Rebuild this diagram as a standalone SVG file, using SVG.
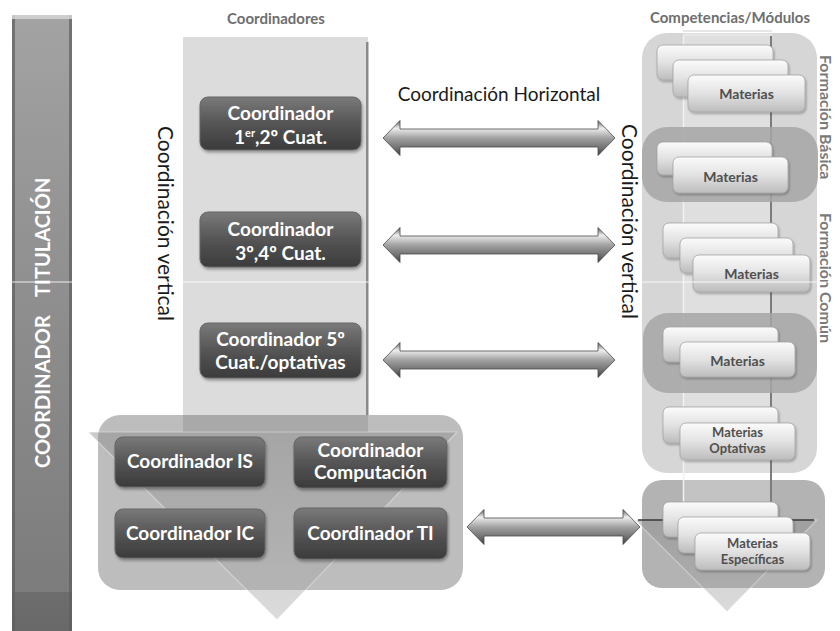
<svg xmlns="http://www.w3.org/2000/svg" width="840" height="631" viewBox="0 0 840 631">
<defs>
<linearGradient id="gBar" x1="0" y1="0" x2="0" y2="1">
<stop offset="0" stop-color="#a3a3a3"/><stop offset="0.35" stop-color="#939393"/><stop offset="0.7" stop-color="#858585"/><stop offset="0.93" stop-color="#7c7c7c"/><stop offset="0.931" stop-color="#6d6d6d"/><stop offset="1" stop-color="#686868"/>
</linearGradient>
<linearGradient id="gDark" x1="0" y1="0" x2="0" y2="1">
<stop offset="0" stop-color="#7a7a7a"/><stop offset="0.5" stop-color="#555"/><stop offset="1" stop-color="#3b3b3b"/>
</linearGradient>
<linearGradient id="gLight" x1="0" y1="0" x2="0" y2="1">
<stop offset="0" stop-color="#fbfbfb"/><stop offset="0.5" stop-color="#e2e2e2"/><stop offset="1" stop-color="#bcbcbc"/>
</linearGradient>
<linearGradient id="gArrow" x1="0" y1="0" x2="0" y2="1">
<stop offset="0" stop-color="#5a5a5a"/><stop offset="0.22" stop-color="#eeeeee"/><stop offset="0.5" stop-color="#a2a2a2"/><stop offset="0.8" stop-color="#6e6e6e"/><stop offset="1" stop-color="#3c3c3c"/>
</linearGradient>
<linearGradient id="gTri" x1="0" y1="0" x2="0" y2="1">
<stop offset="0" stop-color="#8a8a8a"/><stop offset="1" stop-color="#b0b0b0"/>
</linearGradient>
<filter id="sh" x="-10%" y="-10%" width="125%" height="140%">
<feDropShadow dx="1" dy="2" stdDeviation="1.5" flood-color="#000" flood-opacity="0.35"/>
</filter>
<filter id="sh2" x="-10%" y="-10%" width="125%" height="140%">
<feDropShadow dx="1" dy="1.5" stdDeviation="1.2" flood-color="#000" flood-opacity="0.3"/>
</filter>
<style>
.cb{fill:url(#gDark);stroke:#666;stroke-width:1;filter:url(#sh)}
.ct{font-family:Lato,"Open Sans",sans-serif;font-weight:700;font-size:19px;fill:#fff;text-anchor:middle}
.mb{fill:url(#gLight);stroke:#a5a5a5;stroke-width:0.8;filter:url(#sh2)}
.mt{font-family:Lato,"Open Sans",sans-serif;font-weight:700;font-size:14px;fill:#505050;text-anchor:middle}
.mt2{font-family:Lato,"Open Sans",sans-serif;font-weight:700;font-size:13px;fill:#505050;text-anchor:middle}
.hd{font-family:Lato,"Open Sans",sans-serif;font-weight:700;font-size:15px;fill:#6e6e6e;text-anchor:middle}
.cv{font-family:Lato,"Open Sans",sans-serif;font-size:21px;fill:#1a1a1a}
.ch{font-family:Lato,"Open Sans",sans-serif;font-size:19px;fill:#1a1a1a;text-anchor:middle}
.fr{font-family:Lato,"Open Sans",sans-serif;font-weight:700;font-size:16px;fill:#7a7a7a}
.bt{font-family:Lato,"Open Sans",sans-serif;font-weight:700;font-size:20px;fill:#fff}
.ar{fill:url(#gArrow);stroke:#4a4a4a;stroke-width:0.8}
</style>
</defs>
<rect width="840" height="631" fill="#fff"/>

<g id="bar">
<rect x="12" y="15" width="60" height="620" rx="3" fill="url(#gBar)"/>
<rect x="12" y="15" width="3" height="620" fill="#5e5e5e" opacity="0.7"/>
<rect x="69" y="15" width="3" height="620" fill="#5e5e5e" opacity="0.7"/>
<rect x="12" y="15" width="60" height="4" fill="#d8d8d8" opacity="0.8"/>
<text class="bt" transform="translate(50,468) rotate(-90)">COORDINADOR</text>
<text class="bt" transform="translate(50,297) rotate(-90)">TITULACIÓN</text>
</g>

<g id="headers">
<text class="hd" x="276" y="24">Coordinadores</text>
<text class="hd" x="730" y="23">Competencias/Módulos</text>
</g>

<g id="left-column">
<rect x="183" y="37" width="185" height="396" fill="#dcdcdc"/>
<rect x="366" y="42" width="2.5" height="391" fill="#8a8a8a"/>
</g>

<g id="left-panel">
<rect x="98" y="415" width="365" height="175" rx="22" fill="#bdbdbd"/>
<rect x="183" y="415" width="185" height="17" fill="#a9a9a9"/>
<polygon points="88,432 457,432 277,620" fill="url(#gTri)" opacity="0.45" stroke="#ffffff" stroke-width="1.2" stroke-opacity="0.7"/>
</g>

<g id="right-panel">
<rect x="642" y="33" width="175" height="440" rx="25" fill="#d6d6d6"/>
<rect x="642" y="480" width="183" height="108" rx="20" fill="#b3b3b3"/>
<rect x="683" y="30" width="89" height="490" fill="#ffffff" opacity="0.22"/>
<rect x="683" y="30" width="89" height="2" fill="#e6e6e6"/>
<rect x="683" y="34" width="89" height="2" fill="#e6e6e6"/>
<line x1="683.5" y1="36" x2="683.5" y2="520" stroke="#f2f2f2" stroke-width="1.5"/>
<line x1="771" y1="36" x2="771" y2="520" stroke="#7c7c7c" stroke-width="2"/>
<rect x="642" y="127" width="176" height="75" rx="25" fill="#a6a6a6" opacity="0.85"/>
<rect x="643" y="313" width="174" height="80" rx="25" fill="#a6a6a6" opacity="0.85"/>
<polygon points="635,520 817,520 727,612" fill="url(#gTri)" opacity="0.45" stroke="#ffffff" stroke-width="1.2" stroke-opacity="0.7"/>
<line x1="638" y1="520" x2="814" y2="520" stroke="#333" stroke-width="1.5"/>
</g>

<g id="vertical-labels">
<text class="cv" transform="translate(158,126) rotate(90)">Coordinación vertical</text>
<text class="cv" transform="translate(622,124) rotate(90)">Coordinación vertical</text>
<text class="fr" transform="translate(820,55) rotate(90)">Formación Básica</text>
<text class="fr" transform="translate(820,213) rotate(90)">Formación Común</text>
<text class="ch" x="499" y="101">Coordinación Horizontal</text>
</g>

<g id="coord-1">
<rect class="cb" x="200" y="97" width="161" height="53" rx="8"/>
<text class="ct" x="280.5" y="120">Coordinador</text>
<text class="ct" x="280.5" y="144">1<tspan font-size="11" dy="-7">er</tspan><tspan dy="7">,2º Cuat.</tspan></text>
</g>
<g id="coord-2">
<rect class="cb" x="200" y="212" width="161" height="55" rx="8"/>
<text class="ct" x="280.5" y="236">Coordinador</text>
<text class="ct" x="280.5" y="260">3º,4º Cuat.</text>
</g>
<g id="coord-3">
<rect class="cb" x="200" y="323" width="161" height="55" rx="8"/>
<text class="ct" x="280.5" y="346">Coordinador 5º</text>
<text class="ct" x="280.5" y="369">Cuat./optativas</text>
</g>
<g id="coord-is">
<rect class="cb" x="115" y="437" width="150" height="50" rx="8"/>
<text class="ct" x="190" y="468">Coordinador IS</text>
</g>
<g id="coord-comp">
<rect class="cb" x="294" y="437" width="153" height="51" rx="8"/>
<text class="ct" x="370.5" y="457">Coordinador</text>
<text class="ct" x="370.5" y="479">Computación</text>
</g>
<g id="coord-ic">
<rect class="cb" x="115" y="509" width="150" height="49" rx="8"/>
<text class="ct" x="190" y="540">Coordinador IC</text>
</g>
<g id="coord-ti">
<rect class="cb" x="294" y="508" width="153" height="51" rx="8"/>
<text class="ct" x="370.5" y="540">Coordinador TI</text>
</g>

<g id="materias-1">
<rect class="mb" x="657" y="45" width="116" height="35" rx="6"/>
<rect class="mb" x="673" y="60" width="115" height="37" rx="6"/>
<rect class="mb" x="688" y="75" width="117" height="37" rx="6"/>
<text class="mt" x="746.5" y="99">Materias</text>
</g>
<g id="materias-2">
<rect class="mb" x="657" y="142" width="115" height="33" rx="6"/>
<rect class="mb" x="673" y="157" width="115" height="36" rx="6"/>
<text class="mt" x="730.5" y="182">Materias</text>
</g>
<g id="materias-3">
<rect class="mb" x="663" y="223" width="115" height="35" rx="6"/>
<rect class="mb" x="680" y="238" width="113" height="35" rx="6"/>
<rect class="mb" x="693" y="255" width="117" height="37" rx="6"/>
<text class="mt" x="751.5" y="279">Materias</text>
</g>
<g id="materias-4">
<rect class="mb" x="663" y="327" width="115" height="35" rx="6"/>
<rect class="mb" x="680" y="342" width="115" height="35" rx="6"/>
<text class="mt" x="737.5" y="366">Materias</text>
</g>
<g id="materias-optativas">
<rect class="mb" x="663" y="407" width="115" height="36" rx="6"/>
<rect class="mb" x="680" y="423" width="115" height="37" rx="6"/>
<text class="mt2" x="737.5" y="437">Materias</text>
<text class="mt2" x="737.5" y="453">Optativas</text>
</g>
<g id="materias-especificas">
<rect class="mb" x="663" y="502" width="115" height="35" rx="6"/>
<rect class="mb" x="678" y="517" width="115" height="36" rx="6"/>
<rect class="mb" x="695" y="533" width="115" height="37" rx="6"/>
<text class="mt2" x="752.5" y="548">Materias</text>
<text class="mt2" x="752.5" y="564">Específicas</text>
</g>

<g id="connectors">
<path class="ar" d="M383,138 L400,120.5 L400,129 L598,129 L598,120.5 L615,138 L598,155.5 L598,147 L400,147 L400,155.5 Z"/>
<path class="ar" d="M383,245 L400,227.5 L400,236 L598,236 L598,227.5 L615,245 L598,262.5 L598,254 L400,254 L400,262.5 Z"/>
<path class="ar" d="M383,360 L400,342.5 L400,351 L598,351 L598,342.5 L615,360 L598,377.5 L598,369 L400,369 L400,377.5 Z"/>
<path class="ar" d="M467,527 L484,509.5 L484,518 L623,518 L623,509.5 L640,527 L623,544.5 L623,536 L484,536 L484,544.5 Z"/>
</g>

<line x1="0" y1="282" x2="840" y2="282" stroke="#ffffff" stroke-width="1" opacity="0.85"/>
</svg>
